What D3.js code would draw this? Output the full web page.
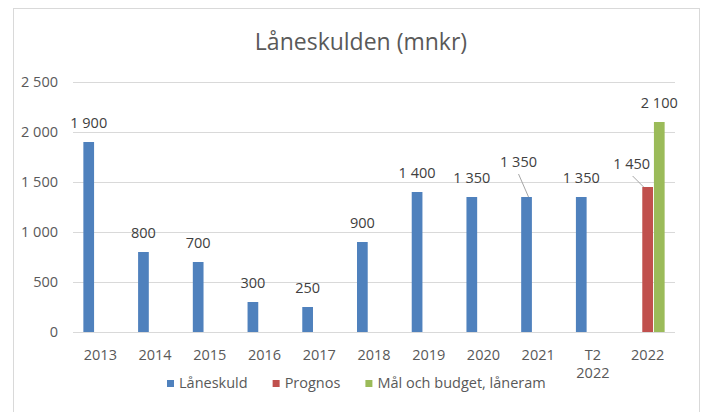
<!DOCTYPE html>
<html>
<head>
<meta charset="utf-8">
<script src="https://cdn.jsdelivr.net/npm/d3@7"></script>
<style>
  body { margin: 0; background: #fff; }
  text { font-family: "Open Sans", "Noto Sans", sans-serif; }
</style>
</head>
<body>
<div id="chart"></div>
<script>
// data
let categories = ["2013", "2014", "2015", "2016", "2017", "2018", "2019", "2020", "2021", "T2 2022", "2022"];
let laneskuld = [1900, 800, 700, 300, 250, 900, 1400, 1350, 1350, 1350, null];
let prognos = [null, null, null, null, null, null, null, null, null, null, 1450];
let malBudget = [null, null, null, null, null, null, null, null, null, null, 2100];
let seriesNames = ["Låneskuld", "Prognos", "Mål och budget, låneram"];
let yTicks = [0, 500, 1000, 1500, 2000, 2500];

let width = 707,
    height = 412;

let colors = { "Låneskuld": "#4f81bd", "Prognos": "#c0504d", "Mål och budget, låneram": "#9bbb59" };

// labels Excel moved by hand (with leader lines)
let labelShift = { "2021|Låneskuld": [-8, -16], "2022|Prognos": [-16, -4] };

let svg = d3.select("#chart")
    .append("svg")
    .attr("width", width)
    .attr("height", height);

svg.append("rect")
    .attr("x", 13.5).attr("y", 8.5)
    .attr("width", 686).attr("height", 420)
    .attr("fill", "#fff")
    .attr("stroke", "#d9d9d9");

let x = d3.scaleBand()
    .domain(categories)
    .range([73, 675]);

let xSub = d3.scaleBand()
    .domain(seriesNames)
    .range([-17, 17])
    .paddingInner(0.08);

let y = d3.scaleLinear()
    .domain([0, 2500])
    .range([332, 82]);

let fmt = d3.formatLocale({ decimal: ",", thousands: "\u00a0", grouping: [3], currency: ["", " kr"] }).format(",d");

// gridlines
svg.append("g")
    .selectAll("line")
    .data(yTicks)
    .join("line")
    .attr("x1", 73).attr("x2", 675)
    .attr("y1", d => Math.round(y(d)) + 0.5)
    .attr("y2", d => Math.round(y(d)) + 0.5)
    .attr("stroke", "#d9d9d9")
    .attr("stroke-width", 1);

// y axis
let yAxis = svg.append("g")
    .attr("transform", "translate(58,0)")
    .call(d3.axisLeft(y).tickValues(yTicks).tickSize(0).tickPadding(0).tickFormat(fmt));
yAxis.select(".domain").remove();
yAxis.selectAll("text")
    .attr("fill", "#595959")
    .style("font-size", "14.5px");

// title
svg.append("text")
    .attr("x", 361)
    .attr("y", 50)
    .attr("text-anchor", "middle")
    .attr("fill", "#595959")
    .style("font-size", "23px")
    .text("Låneskulden (mnkr)");

// rows of bars
let rows = [];
categories.forEach(function (c, i) {
    [laneskuld, prognos, malBudget].forEach(function (arr, j) {
        if (arr[i] != null) rows.push({ cat: c, series: seriesNames[j], value: arr[i] });
    });
});

svg.append("g")
    .selectAll("rect")
    .data(rows)
    .join("rect")
    .attr("x", d => x(d.cat) + x.bandwidth() / 2 + xSub(d.series))
    .attr("y", d => y(d.value))
    .attr("width", xSub.bandwidth())
    .attr("height", d => y(0) - y(d.value))
    .attr("fill", d => colors[d.series]);

// data labels
let labels = svg.append("g");
rows.forEach(function (d) {
    let cx = x(d.cat) + x.bandwidth() / 2 + xSub(d.series) + xSub.bandwidth() / 2;
    let top = y(d.value);
    let s = labelShift[d.cat + "|" + d.series] || [0, 0];
    let lx = cx + s[0], ly = top - 19 + s[1];
    labels.append("text")
        .attr("x", lx)
        .attr("y", ly + 5)
        .attr("text-anchor", "middle")
        .attr("fill", "#404040")
        .style("font-size", "14.5px")
        .text(fmt(d.value));
    if (s[0] !== 0 || s[1] !== 0) {
        labels.append("line")
            .attr("x1", lx + (s[0] < -10 ? 1 : 0))
            .attr("y1", ly + 12)
            .attr("x2", cx + (s[0] < -10 ? -4 : 2))
            .attr("y2", top)
            .attr("stroke", "#a6a6a6")
            .attr("stroke-width", 1);
    }
});

// x labels
let xLab = svg.append("g");
categories.forEach(function (c) {
    let t = xLab.append("text")
        .attr("x", x(c) + x.bandwidth() / 2)
        .attr("y", 360)
        .attr("text-anchor", "middle")
        .attr("fill", "#595959")
        .style("font-size", "14.5px");
    c.split(" ").forEach(function (part, k) {
        t.append("tspan")
            .attr("x", x(c) + x.bandwidth() / 2)
            .attr("dy", k === 0 ? 0 : 18)
            .text(part);
    });
});

// legend
let legend = svg.append("g");
let lx = 167;
seriesNames.forEach(function (name) {
    legend.append("rect")
        .attr("x", lx).attr("y", 380)
        .attr("width", 7).attr("height", 7)
        .attr("fill", colors[name]);
    let t = legend.append("text")
        .attr("x", lx + 12)
        .attr("y", 388)
        .attr("fill", "#595959")
        .style("font-size", "14.5px")
        .text(name);
    lx += 12 + t.node().getComputedTextLength() + 25;
});
</script>
</body>
</html>
